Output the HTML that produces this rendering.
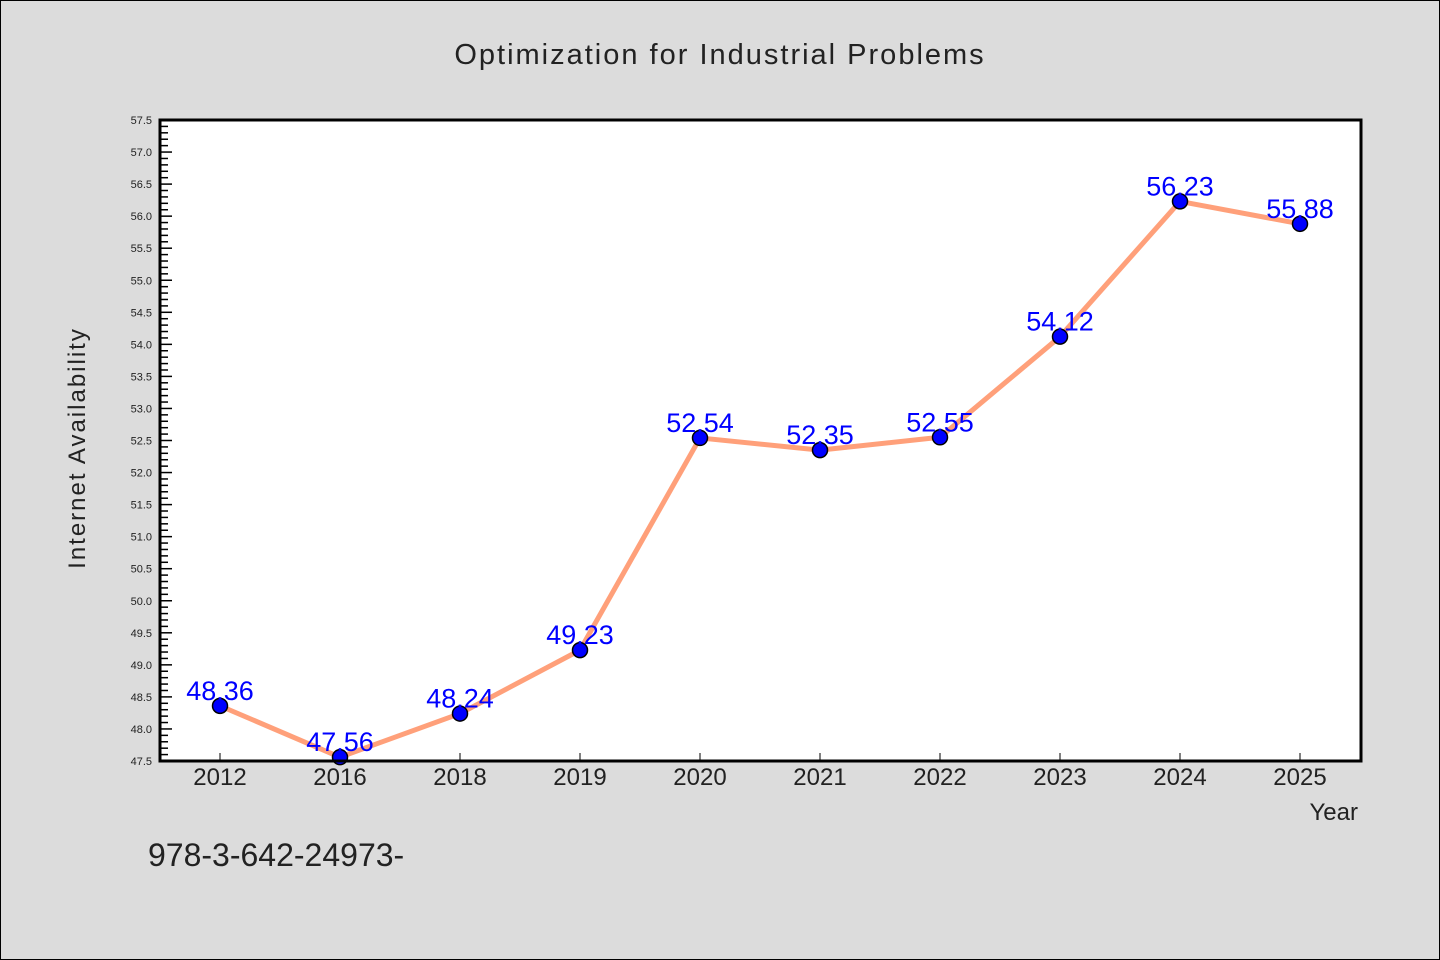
<!DOCTYPE html>
<html><head><meta charset="utf-8"><style>
body{margin:0;background:#dcdcdc;}
svg{display:block;font-family:"WenQuanYi Zen Hei","Liberation Sans",sans-serif;}
</style></head><body>
<svg id="chart" width="1440" height="960" xmlns="http://www.w3.org/2000/svg">
<rect x="0.5" y="0.5" width="1439" height="959" fill="#dcdcdc" stroke="#000"/>
<text x="720" y="64" text-anchor="middle" font-size="29" fill="#222" letter-spacing="2">Optimization for Industrial Problems</text>
<rect x="160" y="120" width="1201" height="641" fill="#fff"/>
<g id="yaxis"></g>
<g id="xaxis"></g>
<g id="series"></g>
<rect x="160" y="120" width="1201" height="641" fill="none" stroke="#000" stroke-width="3"/>
<text transform="translate(85,448) rotate(-90)" text-anchor="middle" font-size="24" fill="#222" letter-spacing="2">Internet Availability</text>
<text x="1358" y="820" text-anchor="end" font-size="24" fill="#222">Year</text>
<text x="148" y="866" font-size="32" fill="#222">978-3-642-24973-</text>
</svg>
<script>
const categories=["2012","2016","2018","2019","2020","2021","2022","2023","2024","2025"];
const values=[48.36,47.56,48.24,49.23,52.54,52.35,52.55,54.12,56.23,55.88];
const labels=["48.36","47.56","48.24","49.23","52.54","52.35","52.55","54.12","56.23","55.88"];
const yMin=47.5,yMax=57.5;
const NS="http://www.w3.org/2000/svg";
const L=160,R=1361,T=120,B=761;
const step=(R-L)/categories.length;
function x(i){return L+60+i*120*(step/120.1);}
function y(v){return B-(v-yMin)/(yMax-yMin)*(B-T);}
function mk(tag,attrs,parent){const e=document.createElementNS(NS,tag);for(const k in attrs)e.setAttribute(k,attrs[k]);parent.appendChild(e);return e;}
const ya=document.getElementById('yaxis'),xa=document.getElementById('xaxis'),sg=document.getElementById('series');
for(let k=0;k<=100;k++){
  const v=yMin+k*0.1,yy=y(v),major=k%5===0;
  const t=mk('line',{x1:L,x2:L+(major?12:8),y1:yy,y2:yy,stroke:'#000','stroke-width':1.5},ya);
  
  
  if(major){
    const tx=mk('text',{x:152,y:yy+4,'text-anchor':'end','font-size':11,fill:'#222'},ya);
    tx.textContent=v.toFixed(1);
    
    
  }
}
categories.forEach((c,i)=>{
  const xx=x(i);
  const t=mk('line',{x1:xx,x2:xx,y1:B,y2:B-8,stroke:'#000','stroke-width':1},xa);
  
  
  const tx=mk('text',{x:xx,y:785,'text-anchor':'middle','font-size':24,fill:'#222'},xa);
  tx.textContent=c;
  
  
});
const pl=mk('polyline',{points:values.map((v,i)=>x(i)+','+y(v)).join(' '),fill:'none',stroke:'#ffa07a','stroke-width':5,'stroke-linejoin':'round'},sg);


values.forEach((v,i)=>{
  const c=mk('circle',{cx:x(i),cy:y(v),r:7.5,fill:'#0000ff',stroke:'#000','stroke-width':1.5},sg);
  
  
});
values.forEach((v,i)=>{
  const t=mk('text',{x:x(i),y:y(v)-6,'text-anchor':'middle','font-size':27,fill:'#0000ff'},sg);
  t.textContent=labels[i];
  
  
});
</script>
</body></html>
